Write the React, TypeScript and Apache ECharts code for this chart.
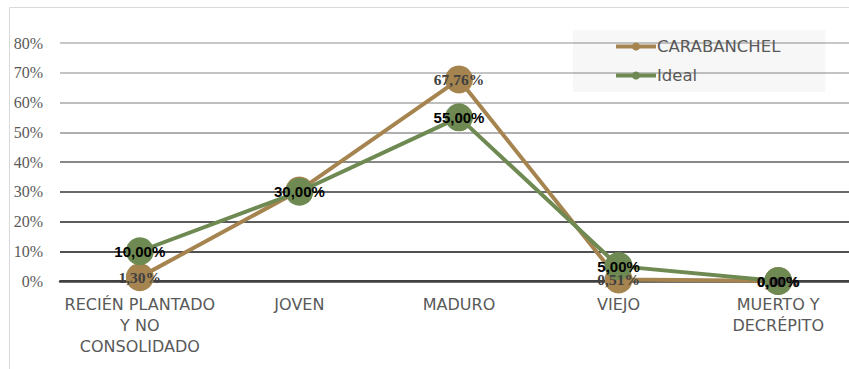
import React, { useEffect, useRef } from "react";
import * as echarts from "echarts";

const categories = [
  "RECIÉN PLANTADO\nY NO\nCONSOLIDADO",
  "JOVEN",
  "MADURO",
  "VIEJO",
  "MUERTO Y\nDECRÉPITO",
];
const carabanchel = [1.3, 30.43, 67.76, 0.51, 0.0];
const ideal = [10.0, 30.0, 55.0, 5.0, 0.0];
const seriesNames = ["CARABANCHEL", "Ideal"];
const yTicks = [0, 10, 20, 30, 40, 50, 60, 70, 80];

const fmt = (v: number) => v.toFixed(2).replace(".", ",") + "%";

export default function App() {
  const ref = useRef<HTMLDivElement>(null);
  useEffect(() => {
    if (!ref.current) return;
    const chart = echarts.init(ref.current, null, { renderer: "svg" });
    const brown = "#A5844F";
    const green = "#6E8A52";
    const sans = "DejaVu Sans";
    const serif = "'Liberation Serif', 'DejaVu Serif', serif";
    const clear = "rgba(0,0,0,0)";
    const brownLabel = {
      show: true,
      position: "inside",
      formatter: (p: any) => fmt(p.value),
      fontFamily: serif,
      fontWeight: "bold",
      fontSize: 15.5,
      color: "#404040",
    };
    const greenLabel = {
      show: true,
      position: "inside",
      formatter: (p: any) => fmt(p.value),
      fontFamily: "Liberation Sans",
      fontWeight: "bold",
      fontSize: 15,
      color: "#000000",
    };
    chart.setOption({
      animation: false,
      backgroundColor: "#ffffff",
      graphic: [
        {
          type: "rect",
          shape: { x: 9.5, y: 7.5, width: 900, height: 420 },
          style: { fill: "none", stroke: "#d9d9d9", lineWidth: 1 },
          z: -1,
        },
      ],
      grid: { left: 60, top: 43, right: 2, bottom: 88 },
      legend: {
        orient: "vertical",
        left: 573,
        top: 30,
        padding: [8, 45, 8, 41],
        backgroundColor: "rgba(0,0,0,0.03)",
        itemWidth: 40,
        itemHeight: 10,
        itemGap: 12,
        data: seriesNames,
        lineStyle: { width: 4 },
        textStyle: { fontFamily: sans, fontSize: 16.5, color: "#595959", padding: [0, 0, 0, -4] },
      },
      xAxis: {
        type: "category",
        data: categories,
        boundaryGap: true,
        axisLine: { show: true, lineStyle: { color: "#404040", width: 2.5 } },
        axisTick: { show: false },
        axisLabel: {
          interval: 0,
          fontFamily: sans,
          fontSize: 16,
          color: "#595959",
          lineHeight: 21,
          margin: 13,
        },
      },
      yAxis: {
        type: "value",
        min: yTicks[0],
        max: yTicks[yTicks.length - 1],
        interval: 10,
        axisLine: { show: false },
        axisTick: { show: false },
        axisLabel: {
          formatter: (v: number) => v + "%",
          fontFamily: serif,
          fontSize: 16,
          color: "#595959",
          margin: 17,
        },
        splitLine: {
          lineStyle: {
            width: 2,
            color: ["#404040", "#505050", "#5c5c5c", "#6a6a6a", "#888888", "#b0b0b0", "#bdbdbd", "#c4c4c4", "#c8c8c8"],
          },
        },
      },
      series: [
        {
          name: seriesNames[0],
          type: "line",
          data: carabanchel,
          z: 2,
          color: brown,
          lineStyle: { width: 4, color: brown },
          symbol: "circle",
          symbolSize: 28,
          itemStyle: { color: brown },
          label: { show: false },
        },
        {
          name: seriesNames[1],
          type: "line",
          data: ideal,
          z: 3,
          color: green,
          lineStyle: { width: 4, color: green },
          symbol: "circle",
          symbolSize: 28,
          itemStyle: { color: green },
          label: { show: false },
        },
        {
          name: seriesNames[0] + " labels",
          type: "line",
          data: carabanchel.map((v, i) => (i === 1 ? { value: v, label: { show: false } } : v)),
          z: 5,
          symbol: "circle",
          symbolSize: 2,
          itemStyle: { color: clear, borderWidth: 0 },
          lineStyle: { color: clear, width: 0 },
          label: brownLabel,
          silent: true,
        },
        {
          name: seriesNames[1] + " labels",
          type: "line",
          data: ideal,
          z: 6,
          symbol: "circle",
          symbolSize: 2,
          itemStyle: { color: clear, borderWidth: 0 },
          lineStyle: { color: clear, width: 0 },
          label: greenLabel,
          silent: true,
        },
      ],
    });
    return () => chart.dispose();
  }, []);
  return (
    <div style={{ position: "absolute", left: 0, top: 0, width: 849, height: 369, overflow: "hidden" }}>
      <div ref={ref} style={{ width: 860, height: 369 }} />
    </div>
  );
}
